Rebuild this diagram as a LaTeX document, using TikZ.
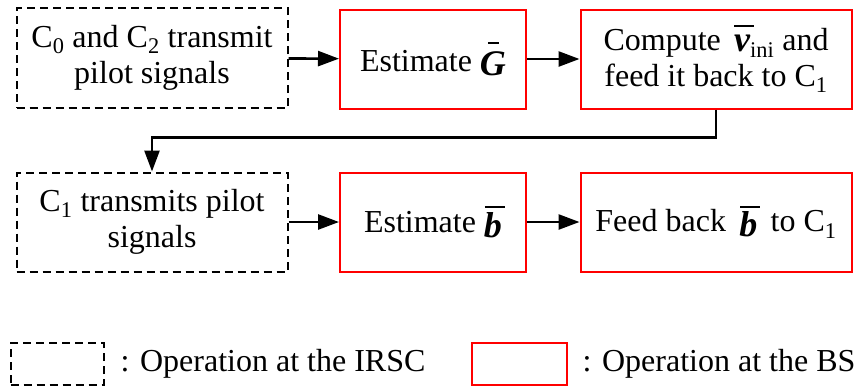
\documentclass[tikz,border=0pt]{standalone}
\usepackage{fontspec}
\setmainfont{Liberation Serif}
\usetikzlibrary{arrows.meta}
% #1 bar width, #2 bar left offset, #3 gap, #4 lowering, #5 symbol
\newcommand{\barsym}[5]{\raisebox{-#4}{\setbox0\hbox{\fontsize{36}{36}\selectfont\bfseries\itshape #5}\vbox{\offinterlineskip\hbox to \wd0{\hskip #2\vrule width #1 height 2.2pt depth 0pt\hss}\kern #3\box0}}}
\begin{document}
\begin{tikzpicture}[x=1pt,y=-1pt,
  font=\fontsize{32}{36}\selectfont,
  box/.style={rectangle, inner sep=0pt, align=center, line width=2pt},
  irsc/.style={box, draw=black, dash pattern=on 8pt off 5pt},
  bs/.style={box, draw=red},
  conn/.style={line width=2.6pt, -{Triangle[length=21pt,width=15pt]}}]
\useasboundingbox (0,0) rectangle (867,391);
\node[irsc, minimum width=271pt, minimum height=100pt] (b1) at (152,58) {C\textsubscript{0} and C\textsubscript{2} transmit\\pilot signals};
\node[bs, minimum width=186pt, minimum height=99pt] (b2) at (433,59) {Estimate \barsym{11pt}{8pt}{8pt}{4pt}{G}};
\node[bs, minimum width=271pt, minimum height=99pt] (b3) at (716,59) {Compute \,\barsym{20pt}{0pt}{8pt}{1pt}{ν}\textsubscript{ini} and\\feed it back to C\textsubscript{1}};
\node[irsc, minimum width=271pt, minimum height=99pt] (b4) at (152,222) {C\textsubscript{1} transmits pilot\\signals};
\node[bs, minimum width=186pt, minimum height=99pt] (b5) at (433,222) {Estimate \barsym{20pt}{1pt}{4pt}{5pt}{b}};
\node[bs, minimum width=271pt, minimum height=99pt] (b6) at (716,222) {Feed back \,\barsym{20pt}{1pt}{4pt}{5pt}{b}\, to C\textsubscript{1}};
\draw[conn] (b1) -- (b2);
\draw[conn] (b2) -- (b3);
\draw[conn] (b3.south) -- ++(0,28) -| (b4.north);
\draw[conn] (b4) -- (b5);
\draw[conn] (b5) -- (b6);
\node[irsc, minimum width=93pt, minimum height=42pt] (l1) at (57,364) {};
\node[anchor=west] (t1) at (117,364) {: Operation at the IRSC};
\node[bs, minimum width=95pt, minimum height=42pt] (l2) at (519,364) {};
\node[anchor=west] (t2) at (579,364) {: Operation at the BS};
\end{tikzpicture}
\end{document}
